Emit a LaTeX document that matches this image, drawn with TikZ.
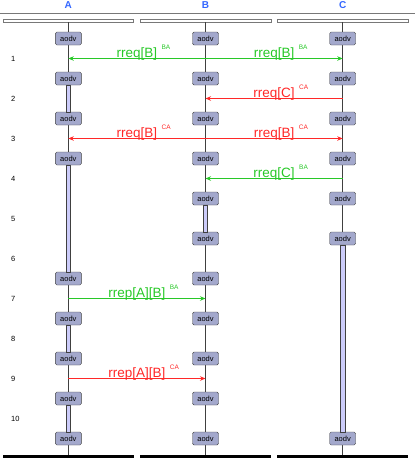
\documentclass[tikz,border=0pt]{standalone}
\usepackage{fontspec}
\setmainfont{Liberation Sans}
\usetikzlibrary{arrows.meta}
\definecolor{BoxFill}{RGB}{163,168,204}
\definecolor{ActFill}{RGB}{204,204,250}
\definecolor{LineGray}{RGB}{64,64,64}
\definecolor{HdrGray}{RGB}{120,120,120}
\definecolor{HeadBlue}{RGB}{51,102,255}
\definecolor{MsgGreen}{RGB}{40,200,40}
\definecolor{MsgRed}{RGB}{255,40,40}
\newcommand{\msgtext}[2]{#1\rlap{\hspace{4.5pt}\raisebox{8.4pt}{\fontsize{6.5}{6.5}\selectfont #2}}}

\begin{document}
\begin{tikzpicture}[
            x=1pt, y=-1pt,
            box/.style={draw=LineGray, fill=BoxFill, rounded corners=1.5pt, minimum width=26pt, minimum height=13pt, inner sep=0pt, font=\fontsize{7.5}{9}\selectfont},
            hdr/.style={draw=HdrGray, fill=white, minimum width=130.5pt, minimum height=3.5pt, inner sep=0pt},
            foot/.style={fill=black, minimum width=130.5pt, minimum height=3.5pt, inner sep=0pt},
            life/.style={draw=LineGray, line width=0.8pt},
            act/.style={draw=LineGray, fill=ActFill, line width=0.6pt},
            num/.style={anchor=west, inner sep=0pt, font=\fontsize{7.5}{9}\selectfont},
            head/.style={text=HeadBlue, inner sep=0pt, font=\bfseries\fontsize{10}{12}\selectfont},
            msg/.style={-{Stealth[length=5.5pt,width=4.5pt]}, line width=0.8pt},
            lbl/.style={midway, anchor=base, yshift=1pt, inner sep=0pt, font=\fontsize{13.5}{16}\selectfont}
        ]
            \useasboundingbox (0,0) rectangle (415,459);
            % instance heads
            \node[head] (nA) at (68.3,5.5)  {A};
            \node[head] (nB) at (205.5,5.5) {B};
            \node[head] (nC) at (342.7,5.5) {C};
            \draw[HdrGray, line width=0.8pt] (0,13) -- (415,13);
            \node[hdr]  (hA) at (68.3,20.5)  {};
            \node[hdr]  (hB) at (205.5,20.5) {};
            \node[hdr]  (hC) at (342.7,20.5) {};
            \node[foot] (fA) at (68.3,456.7)  {};
            \node[foot] (fB) at (205.5,456.7) {};
            \node[foot] (fC) at (342.7,456.7) {};
            \draw[life] (hA.south) -- (fA.north);
            \draw[life] (hB.south) -- (fB.north);
            \draw[life] (hC.south) -- (fC.north);
            % step numbers
            \node[num] (s1)  at (11,58.5)  {1};
            \node[num] (s2)  at (11,98.5)  {2};
            \node[num] (s3)  at (11,138.5) {3};
            \node[num] (s4)  at (11,178.5) {4};
            \node[num] (s5)  at (11,218.5) {5};
            \node[num] (s6)  at (11,258.5) {6};
            \node[num] (s7)  at (11,298.5) {7};
            \node[num] (s8)  at (11,338.5) {8};
            \node[num] (s9)  at (11,378.5) {9};
            \node[num] (s10) at (11,418.5) {10};
            % aodv boxes
            \node[box] (A0)  at (68.3,38.5)  {aodv};
            \node[box] (A1)  at (68.3,78.5)  {aodv};
            \node[box] (A2)  at (68.3,118.5) {aodv};
            \node[box] (A3)  at (68.3,158.5) {aodv};
            \node[box] (A6)  at (68.3,278.5) {aodv};
            \node[box] (A7)  at (68.3,318.5) {aodv};
            \node[box] (A8)  at (68.3,358.5) {aodv};
            \node[box] (A9)  at (68.3,398.5) {aodv};
            \node[box] (A10) at (68.3,438.5) {aodv};
            \node[box] (B0)  at (205.5,38.5)  {aodv};
            \node[box] (B1)  at (205.5,78.5)  {aodv};
            \node[box] (B2)  at (205.5,118.5) {aodv};
            \node[box] (B3)  at (205.5,158.5) {aodv};
            \node[box] (B4)  at (205.5,198.5) {aodv};
            \node[box] (B5)  at (205.5,238.5) {aodv};
            \node[box] (B6)  at (205.5,278.5) {aodv};
            \node[box] (B7)  at (205.5,318.5) {aodv};
            \node[box] (B8)  at (205.5,358.5) {aodv};
            \node[box] (B9)  at (205.5,398.5) {aodv};
            \node[box] (B10) at (205.5,438.5) {aodv};
            \node[box] (C0)  at (342.7,38.5)  {aodv};
            \node[box] (C1)  at (342.7,78.5)  {aodv};
            \node[box] (C2)  at (342.7,118.5) {aodv};
            \node[box] (C3)  at (342.7,158.5) {aodv};
            \node[box] (C4)  at (342.7,198.5) {aodv};
            \node[box] (C5)  at (342.7,238.5) {aodv};
            \node[box] (C10) at (342.7,438.5) {aodv};
            % active periods
            \draw[act] ([xshift=-2.2pt]A1.south) rectangle ([xshift=2.2pt]A2.north);
            \draw[act] ([xshift=-2.2pt]A3.south) rectangle ([xshift=2.2pt]A6.north);
            \draw[act] ([xshift=-2.2pt]A7.south) rectangle ([xshift=2.2pt]A8.north);
            \draw[act] ([xshift=-2.2pt]A9.south) rectangle ([xshift=2.2pt]A10.north);
            \draw[act] ([xshift=-2.2pt]B4.south) rectangle ([xshift=2.2pt]B5.north);
            \draw[act] ([xshift=-2.2pt]C5.south) rectangle ([xshift=2.2pt]C10.north);
            % messages
            \draw[msg, MsgGreen] (s1 -| B0) -- node[lbl] {\msgtext{rreq[B]}{BA}} (s1 -| A0);
            \draw[msg, MsgGreen] (s1 -| B0) -- node[lbl] {\msgtext{rreq[B]}{BA}} (s1 -| C0);
            \draw[msg, MsgRed]   (s2 -| C0) -- node[lbl] {\msgtext{rreq[C]}{CA}} (s2 -| B0);
            \draw[msg, MsgRed]   (s3 -| B0) -- node[lbl] {\msgtext{rreq[B]}{CA}} (s3 -| A0);
            \draw[msg, MsgRed]   (s3 -| B0) -- node[lbl] {\msgtext{rreq[B]}{CA}} (s3 -| C0);
            \draw[msg, MsgGreen] (s4 -| C0) -- node[lbl] {\msgtext{rreq[C]}{BA}} (s4 -| B0);
            \draw[msg, MsgGreen] (s7 -| A0) -- node[lbl] {\msgtext{rrep[A][B]}{BA}} (s7 -| B0);
            \draw[msg, MsgRed]   (s9 -| A0) -- node[lbl] {\msgtext{rrep[A][B]}{CA}} (s9 -| B0);
        \end{tikzpicture}
\end{document}
